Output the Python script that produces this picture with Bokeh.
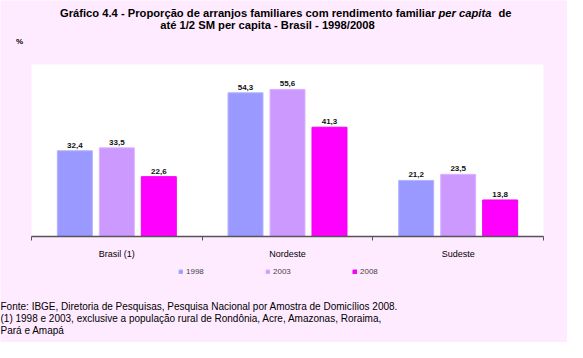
from bokeh.plotting import figure
from bokeh.models import (Range1d, FixedTicker, ColumnDataSource, LabelSet, Label,
                          Legend, LegendItem, BoxAnnotation)
from bokeh.core.properties import value
from bokeh.transform import dodge
from bokeh.embed import file_html
from bokeh.resources import INLINE

categories = ["Brasil (1)", "Nordeste", "Sudeste"]
years = ["1998", "2003", "2008"]
v1998 = [32.4, 54.3, 21.2]
v2003 = [33.5, 55.6, 23.5]
v2008 = [22.6, 41.3, 13.8]
colors = ["#9999FF", "#CC99FF", "#FF00FF"]
edge_colors = ["#B3B3FF", "#DDB3FF", "#F000F0"]

title1 = "Gráfico 4.4 - Proporção de arranjos familiares com rendimento familiar"
title1_it = "per capita"
title1_end = "de"
title2 = "até 1/2 SM per capita - Brasil - 1998/2008"
unit = "%"
notes = [
    "Fonte: IBGE, Diretoria de Pesquisas,  Pesquisa Nacional por Amostra de Domicílios 2008.",
    "(1) 1998 e 2003, exclusive a população rural de Rondônia, Acre, Amazonas, Roraima,",
    "Pará e Amapá",
]

BG = "#FFEBFF"
FONT = "Liberation Sans"

W, H = 567, 342
# plot-area geometry in canvas pixels
AREA_L, AREA_R, AREA_T, BASE = 31, 543, 64, 236
YMAX = 65
ncat = len(categories)
ppu_x = (AREA_R - AREA_L) / ncat
ppu_y = (BASE - AREA_T) / YMAX

p = figure(width=W, height=H, output_backend="svg", toolbar_location=None,
           x_range=Range1d(-AREA_L / ppu_x, ncat + (W - AREA_R) / ppu_x),
           y_range=Range1d(-(H - BASE) / ppu_y, BASE / ppu_y),
           min_border_left=0, min_border_right=0, min_border_top=0,
           min_border_bottom=0)
p.border_fill_color = BG
p.background_fill_color = BG
p.outline_line_color = None
p.xgrid.visible = False
p.ygrid.visible = False
p.yaxis.visible = False

p.add_layout(BoxAnnotation(left=0, right=ncat, bottom=0, top=YMAX, fill_color="white",
                           fill_alpha=1, line_color=None, level="underlay"))

xs = [i + 0.5 for i in range(ncat)]
data = dict(x=xs, cat=categories)
series = [v1998, v2003, v2008]
for yr, vals in zip(years, series):
    data["v" + yr] = vals
    data["t" + yr] = [f"{v:.1f}".replace(".", ",") for v in vals]
src = ColumnDataSource(data)

offsets = [-0.246, 0.0, 0.246]
items = []
for yr, off, col, ecol in zip(years, offsets, colors, edge_colors):
    r = p.vbar(x=dodge("x", off, range=p.x_range), top="v" + yr, width=0.205,
               source=src, fill_color=col, line_color=ecol, line_width=1)
    items.append(LegendItem(label=yr, renderers=[r]))
    p.add_layout(LabelSet(x=dodge("x", off, range=p.x_range), y="v" + yr, text="t" + yr,
                          source=src, y_offset=3, text_align="center",
                          text_baseline="bottom", text_font=value(FONT),
                          text_font_size=value("8px"), text_font_style="bold",
                          text_color="#111111"))

ax = p.xaxis[0]
ax.fixed_location = 0
ax.bounds = (0, ncat)
ax.ticker = FixedTicker(ticks=xs, minor_ticks=list(range(ncat + 1)))
ax.major_label_overrides = {x: c for x, c in zip(xs, categories)}
ax.major_tick_line_color = None
ax.major_tick_out = 0
ax.major_tick_in = 0
ax.minor_tick_out = 4
ax.minor_tick_in = 0
ax.minor_tick_line_color = "#555555"
ax.axis_line_color = "#555555"
ax.axis_line_width = 1.5
ax.major_label_standoff = 8
ax.major_label_text_font = FONT
ax.major_label_text_font_size = "9px"
ax.major_label_text_color = "#000000"

legend = Legend(items=items, orientation="horizontal", location=(178, H - 276),
                glyph_width=5, glyph_height=5, label_standoff=3, spacing=61,
                padding=0, margin=0, background_fill_alpha=0, border_line_color=None,
                label_text_font=FONT, label_text_font_size="8px",
                label_height=8, label_width=18)
p.add_layout(legend, "center")

# texts placed in canvas pixels (frame == canvas; Label screen y is measured upward)
def lab(text, x, y, size, style="normal", align="left"):
    p.add_layout(Label(x=x, y=H - y, x_units="screen", y_units="screen", text=text,
                       text_font=FONT, text_font_size=size, text_font_style=style,
                       text_align=align, text_baseline="middle", text_color="#000000"))

lab(title1, 435, 12, "11.2px", "bold", "right")
lab(title1_it, 438, 12, "11.2px", "bold italic")
lab(title1_end, 498, 12, "11.2px", "bold")
lab(title2, 267, 24, "11.2px", "bold", "center")
lab(unit, 19, 41, "8px", "bold", "center")
for i, t in enumerate(notes):
    lab(t, 0, 306 + 12 * i, "10px")

open("out.html", "w").write(file_html(p, INLINE))
